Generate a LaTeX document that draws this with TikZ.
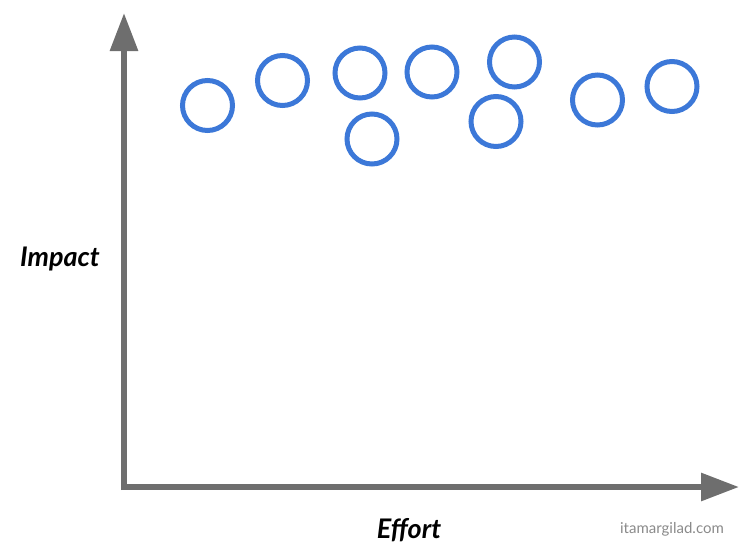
\documentclass[tikz,border=0pt]{standalone}
\usepackage{fontspec}
\setmainfont{Lato}
\usetikzlibrary{arrows.meta}
\definecolor{axisgray}{HTML}{6E6E6E}
\definecolor{dotblue}{HTML}{3C78D8}
\definecolor{markgray}{HTML}{8A8A8A}
\tikzset{
  axis/.style={draw=axisgray, line width=6pt, -{Triangle[length=38pt, width=27pt]}},
  idea/.style={circle, draw=dotblue, line width=5pt, minimum size=50pt, inner sep=0pt},
  axislabel/.style={font=\fontsize{27}{32}\selectfont\bfseries\itshape, text=black},
  credit/.style={font=\fontsize{15}{18}\selectfont, text=markgray}
}
\begin{document}
\begin{tikzpicture}[x=1pt, y=-1pt]
\useasboundingbox (0,0) rectangle (756,560);
\coordinate (origin) at (124,487);
\coordinate (ytop) at (124,13);
\coordinate (xend) at (739,487);
\draw[axis] ([yshift=-3pt]origin) -- (ytop);
\draw[axis] ([xshift=-3pt]origin) -- (xend);
\node[idea] (c1) at (207.5,105.5) {};
\node[idea] (c2) at (282.5,80.5) {};
\node[idea] (c3) at (360,73) {};
\node[idea] (c4) at (372,139) {};
\node[idea] (c5) at (432,72) {};
\node[idea] (c6) at (514.5,62) {};
\node[idea] (c7) at (496,121.5) {};
\node[idea] (c8) at (597.5,100) {};
\node[idea] (c9) at (672,86.5) {};
\node[axislabel] (impact) at (60,259) {Impact};
\node[axislabel] (effort) at (409,530) {Effort};
\node[credit] (credit) at (672,529) {itamargilad.com};
\end{tikzpicture}
\end{document}
